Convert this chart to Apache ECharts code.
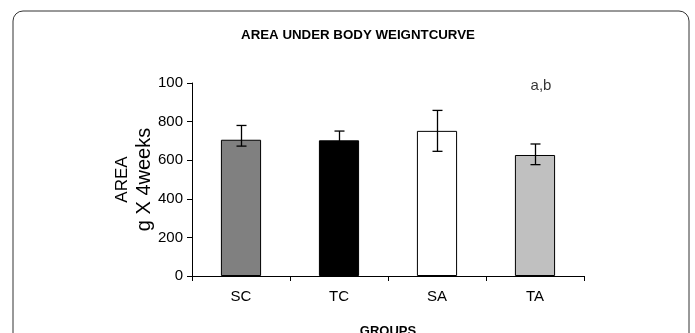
<!DOCTYPE html>
<html>
<head>
<meta charset="utf-8">
<script src="https://cdn.jsdelivr.net/npm/echarts@6/dist/echarts.min.js"></script>
<style>html,body{margin:0;padding:0;background:#fff}#c{width:695px;height:333px}</style>
</head>
<body>
<div id="c"></div>
<script>
var categories = ['SC', 'TC', 'SA', 'TA'];
var means = [706, 703, 752, 627];
var errLow = [673, 655, 646, 577];
var errHigh = [780, 751, 858, 684];
var barColors = ['#808080', '#000000', '#ffffff', '#c0c0c0'];
var yTickLabels = ['0', '200', '400', '600', '800', '100'];
var annotCategory = ['TA'];
var annotValue = [985];
var annotText = ['a,b'];

var FONT = '"Liberation Sans", Arial, sans-serif';
var chart = echarts.init(document.getElementById('c'), null, {renderer: 'canvas'});
chart.setOption({
  animation: false,
  backgroundColor: '#fff',
  title: {
    text: 'AREA UNDER BODY WEIGNTCURVE',
    left: 353, textAlign: 'center', top: 24,
    textStyle: {fontFamily: FONT, fontSize: 13.3, fontWeight: 'bold', color: '#000'}
  },
  graphic: [{
    type: 'rect', silent: true, z: -1,
    shape: {x: 13, y: 11, width: 676, height: 345, r: 10},
    style: {fill: 'none', stroke: '#333', lineWidth: 1}
  }],
  grid: {left: 192, right: 111, top: 83, bottom: 57, containLabel: false, outerBoundsMode: 'none'},
  xAxis: {
    type: 'category', data: categories,
    name: 'GROUPS', nameLocation: 'middle', nameGap: 49, nameMoveOverlap: false,
    nameTextStyle: {fontFamily: FONT, fontSize: 13, fontWeight: 'bold', color: '#000'},
    axisLine: {lineStyle: {color: '#000', width: 1}},
    axisTick: {show: true, length: 5, lineStyle: {color: '#000'}},
    axisLabel: {fontFamily: FONT, fontSize: 15, color: '#000', margin: 13}
  },
  yAxis: {
    type: 'value', min: 0, max: 1000, interval: 200,
    name: '{a|AREA}\n{b|g X 4weeks}', nameLocation: 'middle', nameGap: 36, nameRotate: 90,
    nameMoveOverlap: false,
    nameTextStyle: {
      fontFamily: FONT, color: '#000', align: 'center',
      rich: {
        a: {fontFamily: FONT, fontSize: 17, lineHeight: 20, color: '#000', align: 'center'},
        b: {fontFamily: FONT, fontSize: 20, lineHeight: 24, color: '#000', align: 'center'}
      }
    },
    axisLine: {show: true, lineStyle: {color: '#000', width: 1}},
    axisTick: {show: true, length: 5, lineStyle: {color: '#000'}},
    splitLine: {show: false},
    axisLabel: {
      fontFamily: FONT, fontSize: 15, color: '#000', margin: 9,
      formatter: function (v) { return yTickLabels[Math.round(v / 200)]; }
    }
  },
  series: [{
    type: 'bar',
    barWidth: '41%',
    data: means.map(function (v, i) {
      return {value: v, itemStyle: {color: barColors[i], borderColor: '#000', borderWidth: 1}};
    })
  }, {
    type: 'custom',
    z: 5,
    data: categories.map(function (c, i) { return [i, errLow[i], errHigh[i]]; }),
    renderItem: function (params, api) {
      var lo = api.coord([api.value(0), api.value(1)]);
      var hi = api.coord([api.value(0), api.value(2)]);
      var x = Math.round(lo[0]) + 0.5;
      var hw = 5;
      var st = {stroke: '#000', lineWidth: 1.3};
      return {type: 'group', children: [
        {type: 'line', shape: {x1: x, y1: lo[1], x2: x, y2: hi[1]}, style: st},
        {type: 'line', shape: {x1: x - hw, y1: lo[1], x2: x + hw, y2: lo[1]}, style: st},
        {type: 'line', shape: {x1: x - hw, y1: hi[1], x2: x + hw, y2: hi[1]}, style: st}
      ]};
    }
  }, {
    type: 'scatter',
    symbolSize: 0,
    data: annotCategory.map(function (c, i) { return [c, annotValue[i]]; }),
    label: {
      show: true, position: 'inside', color: '#000', fontFamily: FONT, fontSize: 15,
      offset: [6, 0],
      formatter: function (p) { return annotText[p.dataIndex]; }
    }
  }]
});
</script>
</body>
</html>
